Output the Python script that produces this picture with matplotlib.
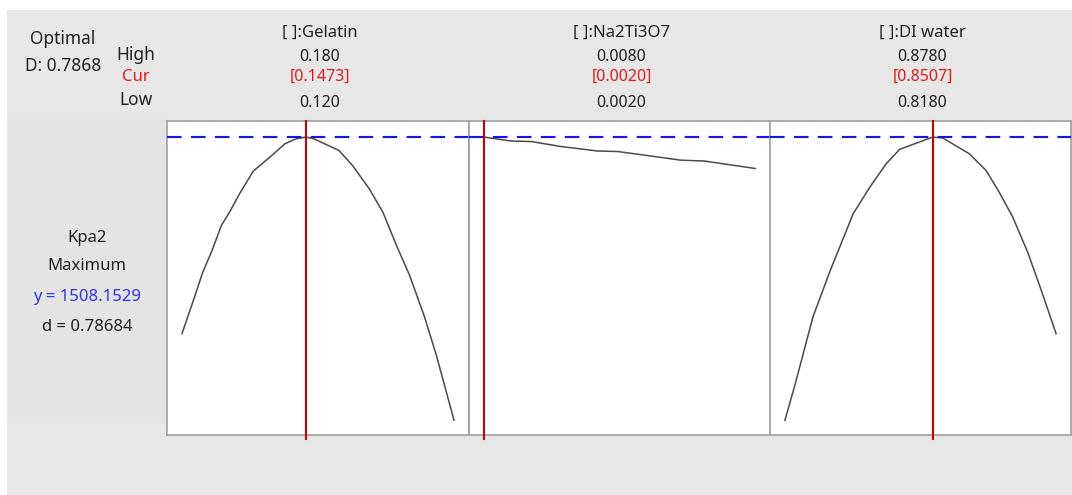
import matplotlib
matplotlib.use("Agg")
import matplotlib.pyplot as plt
from matplotlib.patches import Rectangle

plt.rcParams['font.family'] = ['Noto Sans', 'DejaVu Sans']

# factors: name, high, current, low
factor_names = ["[ ]:Gelatin", "[ ]:Na2Ti3O7", "[ ]:DI water"]
factor_high = ["0.180", "0.0080", "0.8780"]
factor_cur = ["[0.1473]", "[0.0020]", "[0.8507]"]
factor_low = ["0.120", "0.0020", "0.8180"]
low_vals = [0.120, 0.0020, 0.8180]
high_vals = [0.180, 0.0080, 0.8780]
cur_vals = [0.1473, 0.0020, 0.8507]

# predicted response traces
gel_x = [0.1200, 0.1224, 0.1246, 0.1265, 0.1287, 0.1305, 0.1327, 0.1357, 0.1394, 0.1427, 0.1452,
         0.1473, 0.1491, 0.1546, 0.1576, 0.1613, 0.1643, 0.1673, 0.1702, 0.1735, 0.1761, 0.1800]
gel_y = [800, 914, 1022, 1094, 1190, 1238, 1304, 1385, 1436, 1484, 1502,
         1508.15, 1502, 1460, 1406, 1322, 1238, 1118, 1010, 860, 722, 488]
na_x = [0.0020, 0.0026, 0.00305, 0.00371, 0.00451, 0.00496, 0.00569, 0.00635, 0.00687, 0.0080]
na_y = [1508.15, 1494, 1492, 1474, 1458, 1456, 1440, 1425, 1422, 1395]
di_x = [0.8180, 0.8202, 0.8242, 0.8279, 0.8331, 0.8368, 0.8404, 0.8434, 0.8507,
        0.8529, 0.8588, 0.8625, 0.8654, 0.8684, 0.8717, 0.8746, 0.8780]
di_y = [488, 614, 860, 1022, 1232, 1328, 1412, 1464, 1508.15,
        1505, 1448, 1388, 1310, 1220, 1094, 962, 800]
traces = [(gel_x, gel_y), (na_x, na_y), (di_x, di_y)]

y_opt = 1508.1529
d_opt = 0.78684
D_opt = 0.7868
response = "Kpa2"
goal = "Maximum"

W, H = 1072, 495
fig = plt.figure(figsize=(W / 100, H / 100), dpi=100, facecolor='white')

def fx(x):
    return x / W

def fy(y):
    return 1 - y / H

# gray background
fig.patches.append(Rectangle((fx(7), 0), 1 - fx(7), fy(10), transform=fig.transFigure,
                             facecolor='#e7e7e7', edgecolor='none', zorder=-10))
fig.patches.append(Rectangle((fx(7), fy(422)), fx(160), fy(118) - fy(422), transform=fig.transFigure,
                             facecolor='#e4e4e4', edgecolor='none', zorder=-9))

red = '#cc0000'
blue = '#1515e8'
grey_txt = '#222222'

# left labels
fig.text(fx(63), fy(39), "Optimal", ha='center', va='center', fontsize=12.5, color=grey_txt)
fig.text(fx(63), fy(66), "D: %.4f" % D_opt, ha='center', va='center', fontsize=12.5, color=grey_txt)
fig.text(fx(136), fy(55), "High", ha='center', va='center', fontsize=12.5, color=grey_txt)
fig.text(fx(136), fy(77), "Cur", ha='center', va='center', fontsize=12, color='#e01b1b')
fig.text(fx(136), fy(100), "Low", ha='center', va='center', fontsize=12.5, color=grey_txt)

fig.text(fx(87), fy(238), response, ha='center', va='center', fontsize=12, color=grey_txt)
fig.text(fx(87), fy(266), goal, ha='center', va='center', fontsize=12, color=grey_txt)
fig.text(fx(87), fy(297), "y = %.4f" % y_opt, ha='center', va='center', fontsize=12, color='#3030f0')
fig.text(fx(87), fy(327), "d = %.5f" % d_opt, ha='center', va='center', fontsize=12, color=grey_txt)

panel_x = [167, 469, 770, 1071]
top, bottom = 121, 435
ylim = (435, 1566)

for i in range(3):
    x0, x1 = panel_x[i], panel_x[i + 1]
    ax = fig.add_axes([fx(x0), fy(bottom), fx(x1 - x0), fy(top) - fy(bottom)])
    ax.set_facecolor('white')
    lo, hi = low_vals[i], high_vals[i]
    r = hi - lo
    ax.set_xlim(lo - 0.055 * r, hi + 0.055 * r)
    ax.set_ylim(*ylim)
    ax.set_xticks([])
    ax.set_yticks([])
    for s in ax.spines.values():
        s.set_color('#a0a0a0')
        s.set_linewidth(1.2)
    xs, ys = traces[i]
    ax.plot(xs, ys, color='#4a4a4a', lw=1.1, zorder=3)
    ax.axhline(y_opt, color=blue, lw=1.5, ls=(0, (7, 4.5)), zorder=4)
    ax.axvline(cur_vals[i], ymin=-0.012, ymax=1, color=red, lw=1.5, zorder=5, clip_on=False)

    cx = (x0 + x1) / 2 + 2
    fig.text(fx(cx), fy(33), factor_names[i], ha='center', va='center', fontsize=12, color=grey_txt)
    fig.text(fx(cx), fy(57), factor_high[i], ha='center', va='center', fontsize=11.5, color=grey_txt)
    fig.text(fx(cx), fy(77), factor_cur[i], ha='center', va='center', fontsize=11.5, color='#e01b1b')
    fig.text(fx(cx), fy(103), factor_low[i], ha='center', va='center', fontsize=11.5, color=grey_txt)

fig.savefig("out.png", dpi=100, facecolor=fig.get_facecolor())
